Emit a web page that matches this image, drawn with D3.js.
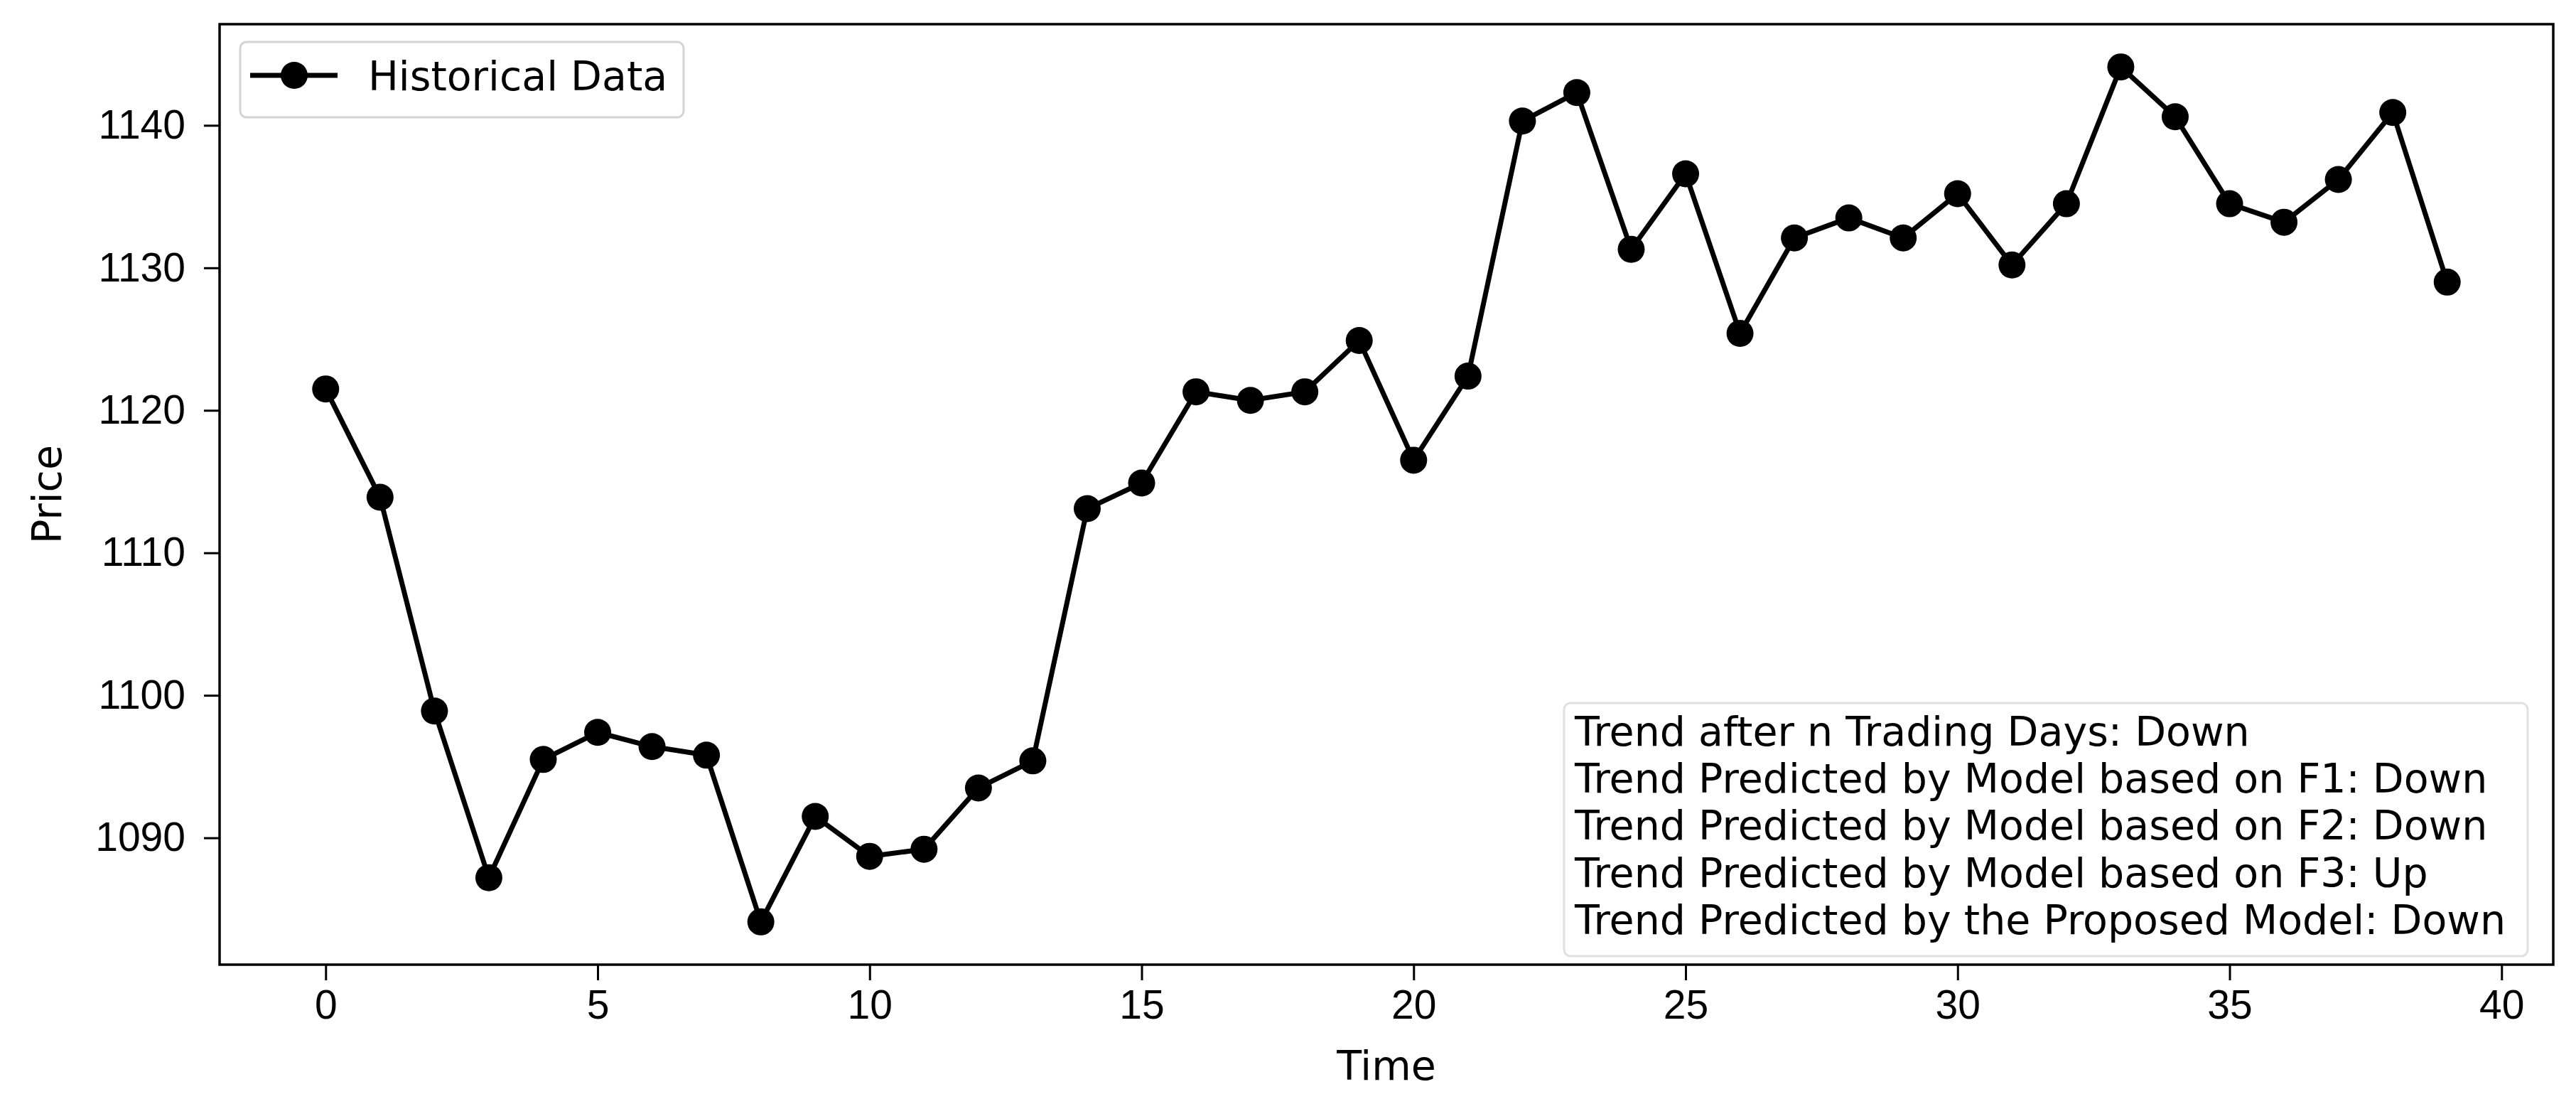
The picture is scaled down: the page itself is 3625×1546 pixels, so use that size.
<!DOCTYPE html>
<html lang="en">
<head>
  <meta charset="UTF-8" />
  <title>Historical Data</title>
  <style>
    html, body {
      margin: 0; padding: 0;
      background: #fff;
      overflow: hidden;
    }
    svg {
      font-family: "DejaVu Sans", sans-serif;
      display: block;
    }
    .axis text {
      font-size: 57px;
      fill: #000;
    }
    .axis path, .axis line {
      stroke: #000;
      stroke-width: 3px;
    }
    .line {
      fill: none;
      stroke: #000;
      stroke-width: 7px;
      stroke-linejoin: round;
    }
    .label {
      font-size: 57px;
      fill: #000;
    }
  </style>
</head>
<body>
  <svg></svg>

  <script src="https://d3js.org/d3.v7.min.js"></script>
  <script>
    // closing price per trading day (x = 0..39)
    const days = d3.range(40);
    const prices = [
      1121.5, 1113.9, 1098.9, 1087.2, 1095.5, 1097.4, 1096.4, 1095.8, 1084.1, 1091.5,
      1088.7, 1089.2, 1093.5, 1095.4, 1113.1, 1114.9, 1121.3, 1120.7, 1121.3, 1124.9,
      1116.5, 1122.4, 1140.3, 1142.3, 1131.3, 1136.6, 1125.4, 1132.1, 1133.5, 1132.1,
      1135.2, 1130.2, 1134.5, 1144.1, 1140.6, 1134.5, 1133.2, 1136.2, 1140.9, 1129.0
    ];
    const xTicks = [0, 5, 10, 15, 20, 25, 30, 35, 40];
    const yTicks = [1090, 1100, 1110, 1120, 1130, 1140];
    const seriesName = "Historical Data";
    const trendLines = [
      "Trend after n Trading Days: Down",
      "Trend Predicted by Model based on F1: Down",
      "Trend Predicted by Model based on F2: Down",
      "Trend Predicted by Model based on F3: Up",
      "Trend Predicted by the Proposed Model: Down"
    ];

    const width = 3625, height = 1546;
    const plot = { left: 309, right: 3593, top: 34, bottom: 1357 };

    const svg = d3.select("svg")
      .attr("width", width)
      .attr("height", height);

    // matplotlib-style 5% margins
    const xPad = (d3.max(days) - d3.min(days)) * 0.05;
    const [yMin, yMax] = d3.extent(prices);
    const yPad = (yMax - yMin) * 0.05;

    const x = d3.scaleLinear()
      .domain([d3.min(days) - xPad, d3.max(days) + xPad])
      .range([plot.left, plot.right]);
    const y = d3.scaleLinear()
      .domain([yMin - yPad, yMax + yPad])
      .range([plot.bottom, plot.top]);

    const data = days.map((d, i) => ({ t: d, p: prices[i] }));

    // axes
    svg.append("g")
      .attr("class", "axis")
      .attr("transform", `translate(0,${plot.bottom})`)
      .call(d3.axisBottom(x).tickValues(xTicks).tickSize(22).tickPadding(14).tickSizeOuter(0))
      .call(g => g.select(".domain").remove());

    svg.append("g")
      .attr("class", "axis")
      .attr("transform", `translate(${plot.left},0)`)
      .call(d3.axisLeft(y).tickValues(yTicks).tickFormat(d3.format("d")).tickSize(22).tickPadding(26).tickSizeOuter(0))
      .call(g => g.select(".domain").remove());

    // line + markers
    svg.append("path")
      .datum(data)
      .attr("class", "line")
      .attr("d", d3.line().x(d => x(d.t)).y(d => y(d.p)));

    svg.append("g")
      .selectAll("circle")
      .data(data)
      .join("circle")
      .attr("cx", d => x(d.t))
      .attr("cy", d => y(d.p))
      .attr("r", 19)
      .attr("fill", "#000");

    // frame
    svg.append("rect")
      .attr("x", plot.left)
      .attr("y", plot.top)
      .attr("width", plot.right - plot.left)
      .attr("height", plot.bottom - plot.top)
      .attr("fill", "none")
      .attr("stroke", "#000")
      .attr("stroke-width", 3.5);

    // axis labels
    svg.append("text")
      .attr("class", "label")
      .attr("x", (plot.left + plot.right) / 2)
      .attr("y", 1519)
      .attr("text-anchor", "middle")
      .text("Time");

    svg.append("text")
      .attr("class", "label")
      .attr("transform", `translate(86,${(plot.top + plot.bottom) / 2}) rotate(-90)`)
      .attr("text-anchor", "middle")
      .text("Price");

    // legend, upper left
    const leg = svg.append("g");
    leg.append("rect")
      .attr("x", 338).attr("y", 59)
      .attr("width", 624).attr("height", 106)
      .attr("rx", 9)
      .attr("fill", "#fff").attr("fill-opacity", 0.8)
      .attr("stroke", "#d4d4d4").attr("stroke-width", 3);
    leg.append("line")
      .attr("x1", 352).attr("x2", 475)
      .attr("y1", 106).attr("y2", 106)
      .attr("stroke", "#000").attr("stroke-width", 7);
    leg.append("circle")
      .attr("cx", 414).attr("cy", 106).attr("r", 19)
      .attr("fill", "#000");
    leg.append("text")
      .attr("class", "label")
      .attr("x", 518).attr("y", 127)
      .text(seriesName);

    // trend summary box, lower right
    const box = svg.append("g");
    box.append("rect")
      .attr("x", 2201).attr("y", 989)
      .attr("width", 1356).attr("height", 356)
      .attr("rx", 9)
      .attr("fill", "#fff").attr("fill-opacity", 0.8)
      .attr("stroke", "#e0e0e0").attr("stroke-width", 3);
    box.selectAll("text")
      .data(trendLines)
      .join("text")
      .attr("class", "label")
      .attr("x", 2216)
      .attr("y", (d, i) => 1049 + i * 66.2)
      .text(d => d);
  </script>
</body>
</html>
